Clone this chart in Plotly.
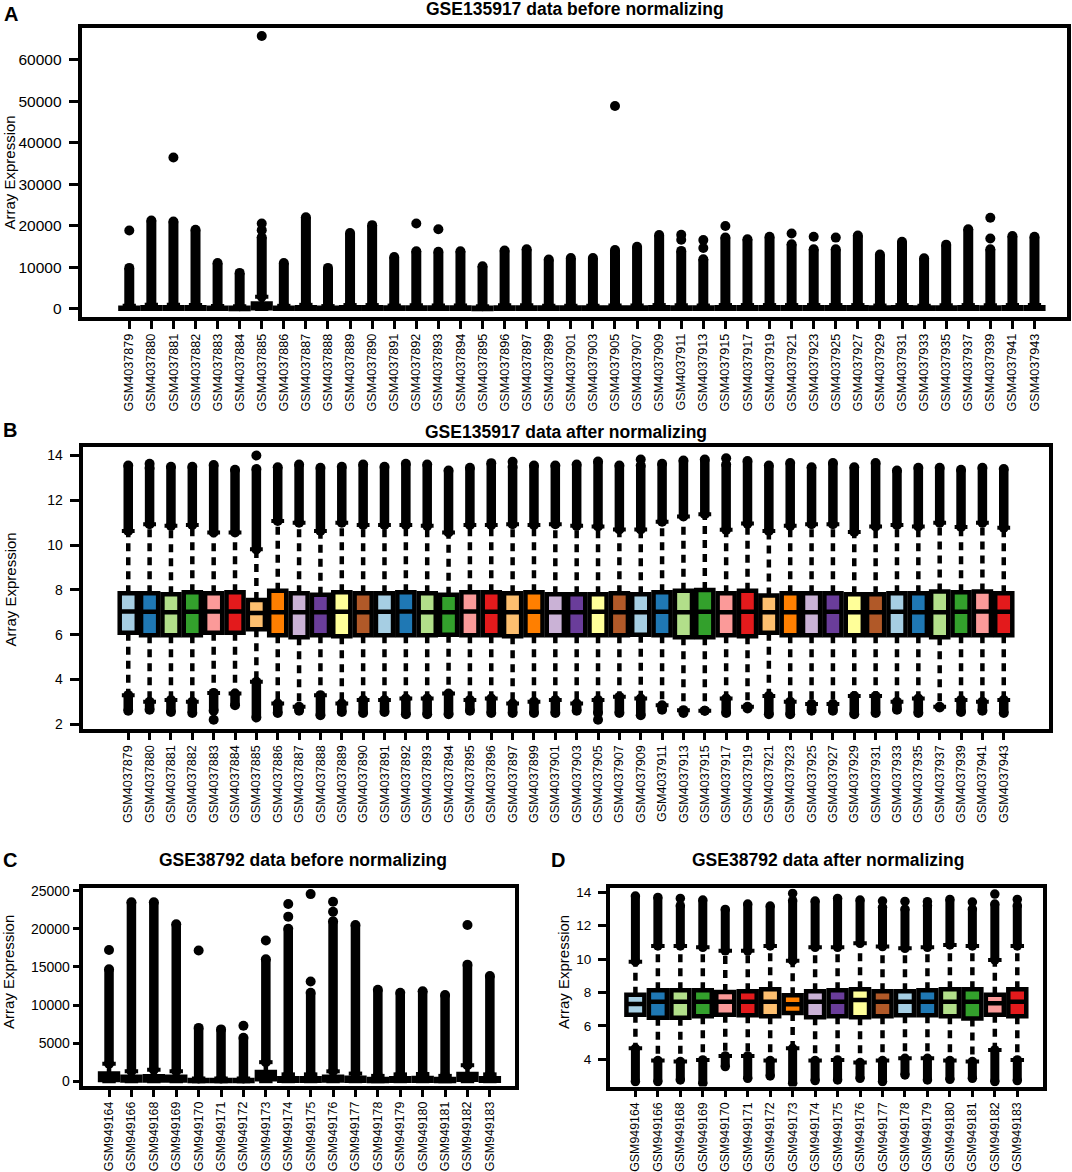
import plotly.graph_objects as go

W, H = 1072, 1172
FONT = "Liberation Sans, Arial, Helvetica, sans-serif"
PAIRED = ["#A6CEE3", "#1F78B4", "#B2DF8A", "#33A02C", "#FB9A99", "#E31A1C",
          "#FDBF6F", "#FF7F00", "#CAB2D6", "#6A3D9A", "#FFFF99", "#B15928"]

# ---------------- data: GSE135917 ----------------
GSE135917_samples = [
    "GSM4037879", "GSM4037880", "GSM4037881", "GSM4037882", "GSM4037883", "GSM4037884",
    "GSM4037885", "GSM4037886", "GSM4037887", "GSM4037888", "GSM4037889", "GSM4037890",
    "GSM4037891", "GSM4037892", "GSM4037893", "GSM4037894", "GSM4037895", "GSM4037896",
    "GSM4037897", "GSM4037899", "GSM4037901", "GSM4037903", "GSM4037905", "GSM4037907",
    "GSM4037909", "GSM4037911", "GSM4037913", "GSM4037915", "GSM4037917", "GSM4037919",
    "GSM4037921", "GSM4037923", "GSM4037925", "GSM4037927", "GSM4037929", "GSM4037931",
    "GSM4037933", "GSM4037935", "GSM4037937", "GSM4037939", "GSM4037941", "GSM4037943"]

# A: before normalizing (raw intensities)
A_q1 = [30, 40, 40, 40, 30, 25, 200, 30, 40, 30, 40, 40, 30, 40, 35, 35, 25, 40, 40, 30, 30,
        30, 35, 35, 40, 35, 30, 40, 40, 40, 40, 40, 40, 40, 30, 40, 30, 40, 40, 35, 40, 40]
A_med = [110, 150, 150, 140, 100, 90, 700, 110, 150, 100, 140, 140, 120, 130, 120, 120, 90, 130, 130, 110, 110,
         110, 120, 120, 140, 130, 120, 140, 140, 140, 140, 140, 140, 140, 120, 140, 110, 130, 140, 130, 140, 140]
A_q3 = [320, 420, 420, 400, 300, 280, 1300, 320, 420, 300, 400, 400, 350, 380, 360, 360, 280, 380, 380, 330, 330,
        330, 360, 360, 400, 380, 350, 400, 400, 400, 400, 400, 400, 400, 350, 400, 330, 380, 400, 380, 400, 400]
A_wlo = [0] * 42
A_whi = [760, 1000, 1000, 950, 700, 650, 2950, 760, 1000, 700, 950, 950, 820, 900, 850, 850, 650, 900, 900, 780, 780,
         780, 850, 850, 950, 900, 830, 950, 950, 950, 950, 950, 950, 950, 830, 950, 780, 900, 950, 900, 950, 950]
A_omax = [9900, 21300, 21100, 19100, 11100, 8700, 17300, 11100, 22100, 9900, 18300, 20200, 12500, 13900,
          13800, 13900, 10300, 14100, 14400, 11900, 12300, 12300, 14200, 15000, 17800, 14000, 12000, 17200,
          16800, 17400, 15600, 14400, 14400, 17700, 13100, 16200, 12200, 15500, 19200, 14400, 17600, 17400]
A_dot_samples = ["GSM4037879", "GSM4037881", "GSM4037885", "GSM4037885", "GSM4037885", "GSM4037892",
                 "GSM4037893", "GSM4037905", "GSM4037911", "GSM4037911", "GSM4037913", "GSM4037913",
                 "GSM4037915", "GSM4037921", "GSM4037923", "GSM4037925", "GSM4037939", "GSM4037939"]
A_dot_values = [18900, 36500, 19000, 20600, 65800, 20600, 19200, 48900, 16700, 17900, 14700, 16600,
                20000, 18200, 17400, 17200, 17000, 22000]

# B: after normalizing (log2)
B_q1 = [6.09, 5.98, 5.98, 5.98, 6.09, 6.09, 6.24, 5.98, 5.89, 5.98, 5.93, 5.98, 5.98, 5.98, 5.98, 6.00,
        5.98, 5.98, 5.93, 5.98, 5.98, 5.98, 5.98, 5.98, 6.00, 5.98, 5.89, 5.89, 5.98, 5.93, 6.09, 5.98,
        5.98, 5.98, 5.98, 5.98, 5.98, 5.98, 5.89, 5.98, 5.98, 5.98]
B_med = [7.03, 7.02, 7.00, 7.02, 7.03, 7.04, 6.97, 7.00, 7.00, 7.00, 7.02, 7.00, 7.02, 7.03, 7.00, 7.00,
         7.03, 7.02, 7.00, 7.02, 7.00, 7.00, 7.02, 7.00, 7.00, 7.02, 7.00, 7.02, 7.00, 7.02, 7.00, 7.00,
         7.00, 7.02, 7.00, 7.00, 7.02, 7.00, 7.00, 7.02, 7.03, 7.02]
B_q3 = [7.85, 7.85, 7.80, 7.90, 7.85, 7.90, 7.55, 7.96, 7.85, 7.78, 7.90, 7.85, 7.85, 7.90, 7.85, 7.78,
        7.90, 7.90, 7.85, 7.90, 7.80, 7.80, 7.80, 7.85, 7.80, 7.90, 7.96, 8.00, 7.85, 7.96, 7.75, 7.85,
        7.85, 7.85, 7.80, 7.80, 7.85, 7.85, 7.93, 7.90, 7.93, 7.85]
B_wlo = [3.30, 3.00, 3.08, 3.00, 3.40, 3.37, 3.90, 2.93, 2.78, 3.30, 2.93, 3.08, 3.08, 3.15, 3.15, 3.37,
         3.08, 3.15, 2.93, 3.00, 3.08, 2.93, 3.08, 3.23, 3.15, 2.85, 2.63, 2.60, 3.15, 2.78, 3.26, 3.00,
         2.90, 2.90, 3.26, 3.26, 3.00, 3.15, 2.78, 3.08, 3.00, 3.08]
B_whi = [10.63, 10.93, 10.86, 10.90, 10.56, 10.56, 9.81, 11.08, 11.00, 10.63, 11.00, 10.90, 10.90, 10.90,
         10.86, 10.56, 10.90, 10.90, 10.93, 10.90, 10.93, 10.86, 10.83, 10.70, 10.70, 11.04, 11.28, 11.38,
         10.68, 10.96, 10.63, 10.86, 10.93, 10.93, 10.59, 10.83, 10.90, 10.83, 11.00, 10.81, 11.00, 10.78]
B_omin = [2.60, 2.65, 2.55, 2.50, 2.60, 2.85, 2.30, 2.50, 2.60, 2.40, 2.55, 2.50, 2.55, 2.45, 2.45, 2.45,
          2.60, 2.50, 2.50, 2.50, 2.50, 2.60, 2.50, 2.50, 2.40, 2.65, 2.50, 2.60, 2.50, 2.70, 2.45, 2.45,
          2.60, 2.60, 2.45, 2.50, 2.65, 2.50, 2.75, 2.55, 2.60, 2.50]
B_omax = [13.55, 13.45, 13.50, 13.50, 13.58, 13.36, 13.40, 13.48, 13.60, 13.45, 13.50, 13.60, 13.50, 13.63,
          13.60, 13.33, 13.45, 13.66, 13.50, 13.55, 13.55, 13.60, 13.73, 13.55, 13.55, 13.63, 13.78, 13.82,
          13.60, 13.75, 13.55, 13.67, 13.48, 13.67, 13.48, 13.67, 13.33, 13.45, 13.45, 13.36, 13.45, 13.40]
B_dot_samples = ["GSM4037880", "GSM4037885", "GSM4037897", "GSM4037909", "GSM4037917",
                 "GSM4037883", "GSM4037905"]
B_dot_values = [13.63, 14.00, 13.72, 13.82, 13.88, 2.20, 2.20]

# ---------------- data: GSE38792 ----------------
GSE38792_samples = ["GSM949164", "GSM949166", "GSM949168", "GSM949169", "GSM949170", "GSM949171",
                    "GSM949172", "GSM949173", "GSM949174", "GSM949175", "GSM949176", "GSM949177",
                    "GSM949178", "GSM949179", "GSM949180", "GSM949181", "GSM949182", "GSM949183"]

# C: before normalizing
C_q1 = [150, 80, 80, 80, 20, 20, 20, 250, 50, 50, 80, 50, 40, 50, 50, 40, 200, 50]
C_med = [500, 250, 270, 250, 60, 60, 60, 780, 150, 150, 250, 180, 120, 150, 160, 120, 600, 150]
C_q3 = [1000, 600, 650, 600, 150, 150, 150, 1200, 400, 400, 600, 450, 300, 400, 420, 300, 950, 400]
C_wlo = [0] * 18
C_whi = [2300, 1300, 1500, 1300, 350, 350, 350, 2500, 900, 900, 1300, 1000, 700, 900, 950, 700, 2100, 900]
C_omax = [14700, 23500, 23500, 20600, 7000, 6800, 5700, 16000, 20000, 11600, 21000, 20500, 12000,
          11600, 11800, 11300, 15300, 13800]
C_dot_samples = ["GSM949164", "GSM949170", "GSM949172", "GSM949173", "GSM949174", "GSM949174",
                 "GSM949175", "GSM949175", "GSM949176", "GSM949176", "GSM949182"]
C_dot_values = [17230, 17150, 7290, 18460, 21600, 23250, 13090, 24560, 22250, 23560, 20500]

# D: after normalizing
D_q1 = [6.67, 6.48, 6.48, 6.58, 6.67, 6.63, 6.58, 6.77, 6.52, 6.58, 6.52, 6.58, 6.63, 6.63, 6.58, 6.44, 6.67, 6.58]
D_med = [7.31, 7.45, 7.45, 7.45, 7.45, 7.45, 7.45, 7.29, 7.45, 7.45, 7.55, 7.45, 7.45, 7.45, 7.45, 7.45, 7.35, 7.45]
D_q3 = [7.87, 8.13, 8.13, 8.13, 8.03, 8.07, 8.19, 7.83, 8.07, 8.13, 8.19, 8.07, 8.07, 8.13, 8.19, 8.19, 7.87, 8.19]
D_wlo = [4.66, 3.92, 3.86, 3.96, 4.20, 4.20, 3.92, 4.66, 3.92, 3.96, 3.80, 3.92, 4.06, 4.06, 3.92, 3.86, 4.56, 3.96]
D_whi = [9.85, 10.79, 10.79, 10.71, 10.50, 10.50, 10.79, 9.91, 10.71, 10.71, 10.95, 10.75, 10.65, 10.71,
         10.85, 10.79, 9.95, 10.79]
D_omin = [2.66, 2.66, 2.76, 2.56, 3.56, 2.86, 3.00, 2.56, 2.72, 2.76, 2.86, 2.66, 3.06, 2.76, 2.80, 2.86, 2.66, 2.72]
D_omax = [13.78, 13.70, 13.20, 13.54, 12.98, 13.30, 13.18, 13.50, 13.48, 13.64, 13.54, 13.10, 13.00, 13.20,
          13.58, 13.00, 13.30, 13.20]
D_dot_samples = ["GSM949168", "GSM949173", "GSM949177", "GSM949178", "GSM949179", "GSM949181",
                 "GSM949182", "GSM949183"]
D_dot_values = [13.64, 13.94, 13.48, 13.46, 13.44, 13.42, 13.90, 13.58]

# ---------------- layout helpers ----------------
LW = 3.5  # frame line width


def inner_map(f_lo, f_hi, v_lo, v_hi):
    """frame line centres (px) and their values -> inner domain px and range values"""
    d_lo, d_hi = f_lo + LW / 2, f_hi - LW / 2
    s = (v_hi - v_lo) / (f_hi - f_lo)
    return d_lo, d_hi, v_lo + (d_lo - f_lo) * s, v_lo + (d_hi - f_lo) * s


fig = go.Figure()


def add_panel(k, samples, q1, med, q3, wlo, whi, omin, omax, dot_s, dot_v,
              frame, xr, yr, yticks, ytext, colw, dsize, xfont, xlen, yfont, ylen, ystand):
    xa = "x" if k == 1 else "x%d" % k
    ya = "y" if k == 1 else "y%d" % k
    n = len(samples)
    pos = {s: i + 1 for i, s in enumerate(samples)}
    wx, wy, sx, sy, ox, oy, ex, ey = [], [], [], [], [], [], [], []
    for i in range(n):
        p = i + 1
        wx += [p, p, None, p, p, None]
        wy += [q3[i], whi[i], None, q1[i], wlo[i], None]
        sx += [p - 0.3, p + 0.3, None, p - 0.3, p + 0.3, None]
        sy += [whi[i], whi[i], None, wlo[i], wlo[i], None]
        ox += [p, p, None]
        oy += [whi[i], omax[i], None]
        ex += [p, p]
        ey += [whi[i], omax[i]]
        if omin is not None:
            ox += [p, p, None]
            oy += [wlo[i], omin[i], None]
            ex += [p, p]
            ey += [wlo[i], omin[i]]
    for s, v in zip(dot_s, dot_v):
        ex.append(pos[s])
        ey.append(v)

    for i in range(n):
        fig.add_trace(go.Box(
            x=[i + 1], q1=[q1[i]], median=[med[i]], q3=[q3[i]],
            lowerfence=[q1[i]], upperfence=[q3[i]], width=0.8,
            fillcolor=PAIRED[i % 12], line=dict(color="black", width=4.5),
            boxpoints=False, showlegend=False, hoverinfo="skip", xaxis=xa, yaxis=ya))
    fig.add_trace(go.Scatter(x=wx, y=wy, mode="lines", xaxis=xa, yaxis=ya, showlegend=False,
                             hoverinfo="skip", line=dict(color="black", width=4.5, dash="8px,6px")))
    fig.add_trace(go.Scatter(x=sx, y=sy, mode="lines", xaxis=xa, yaxis=ya, showlegend=False,
                             hoverinfo="skip", line=dict(color="black", width=4)))
    fig.add_trace(go.Scatter(x=ox, y=oy, mode="lines", xaxis=xa, yaxis=ya, showlegend=False,
                             hoverinfo="skip", line=dict(color="black", width=colw)))
    fig.add_trace(go.Scatter(x=ex, y=ey, mode="markers", xaxis=xa, yaxis=ya, showlegend=False,
                             hoverinfo="skip", marker=dict(color="black", size=dsize, line=dict(width=0))))

    fl, fr, ft, fb = frame
    dl, dr, rl, rr = inner_map(fl, fr, xr[0], xr[1])
    dt, db, rt, rb = inner_map(ft, fb, yr[0], yr[1])
    axcommon = dict(showline=True, linecolor="black", linewidth=LW, mirror=True, showgrid=False,
                    zeroline=False, ticks="outside", tickcolor="black", tickwidth=3, automargin=False)
    fig.layout["xaxis" if k == 1 else "xaxis%d" % k] = dict(
        axcommon, domain=[dl / W, dr / W], range=[rl, rr], anchor=ya,
        tickmode="array", tickvals=list(range(1, n + 1)), ticktext=samples, tickangle=-90,
        ticklen=xlen, tickfont=dict(family=FONT, size=xfont, color="black"))
    fig.layout["yaxis" if k == 1 else "yaxis%d" % k] = dict(
        axcommon, domain=[1 - db / H, 1 - dt / H], range=[rb, rt], anchor=xa,
        tickmode="array", tickvals=yticks, ticktext=ytext, ticklen=ylen, ticklabelstandoff=ystand,
        tickfont=dict(family=FONT, size=yfont, color="black"))


A_ticks = [0, 10000, 20000, 30000, 40000, 50000, 60000]
B_ticks = [2, 4, 6, 8, 10, 12, 14]
C_ticks = [0, 5000, 10000, 15000, 20000, 25000]
D_ticks = [4, 6, 8, 10, 12, 14]

add_panel(1, GSE135917_samples, A_q1, A_med, A_q3, A_wlo, A_whi, None, A_omax, A_dot_samples, A_dot_values,
          (80.7, 1068.7, 26.0, 318.7), (-1.2, 43.55), (68190, -2340),
          A_ticks, [str(t) for t in A_ticks], 10, 10, 12.6, 8, 15.5, 10, 4)
add_panel(2, GSE135917_samples, B_q1, B_med, B_q3, B_wlo, B_whi, B_omin, B_omax, B_dot_samples, B_dot_values,
          (81.7, 1050.3, 445.0, 730.3), (-1.18, 44.18), (14.47, 1.73),
          B_ticks, [str(t) for t in B_ticks], 9.5, 10, 12.6, 8, 14, 10, 4)
add_panel(3, GSE38792_samples, C_q1, C_med, C_q3, C_wlo, C_whi, None, C_omax, C_dot_samples, C_dot_values,
          (81.7, 517.2, 886.7, 1087.7), (-0.22, 19.22), (25530, -850),
          C_ticks, [str(t) for t in C_ticks], 9.5, 10, 12.4, 7, 14, 7, 0)
add_panel(4, GSE38792_samples, D_q1, D_med, D_q3, D_wlo, D_whi, D_omin, D_omax, D_dot_samples, D_dot_values,
          (608.0, 1044.7, 886.7, 1088.3), (-0.22, 19.22), (14.34, 2.26),
          D_ticks, [str(t) for t in D_ticks], 9, 9.5, 12.4, 7, 13.5, 8, 4)

annotations = []


def note(text, xp, yp, size, angle=0, bold=False):
    annotations.append(dict(
        text="<b>%s</b>" % text if bold else text, x=xp / W, y=1 - yp / H, xref="paper", yref="paper",
        xanchor="center", yanchor="middle", showarrow=False, textangle=angle,
        font=dict(family=FONT, size=size, color="black")))


for letter, xp, yp in [("A", 10.5, 13.5), ("B", 10, 430), ("C", 9.5, 860), ("D", 558, 860)]:
    note(letter, xp, yp, 20, bold=True)
for title, xp, yp in [("GSE135917 data before normalizing", 574.7, 9.5),
                      ("GSE135917 data after normalizing", 566, 432.5),
                      ("GSE38792 data before normalizing", 303, 860),
                      ("GSE38792 data after normalizing", 828, 860)]:
    note(title, xp, yp, 17.5, bold=True)
for xp, yp in [(9, 172.5), (9.5, 590), (9.2, 971.7), (563.3, 971.7)]:
    note("Array Expression", xp, yp, 15, angle=-90)

fig.update_layout(width=W, height=H, margin=dict(l=0, r=0, t=0, b=0),
                  paper_bgcolor="white", plot_bgcolor="white", boxmode="overlay",
                  showlegend=False, annotations=annotations, font=dict(family=FONT, color="black"))

fig.write_html("out.html", config={"displayModeBar": False},
               post_script="document.body.style.margin='0';document.body.style.overflow='hidden';")
